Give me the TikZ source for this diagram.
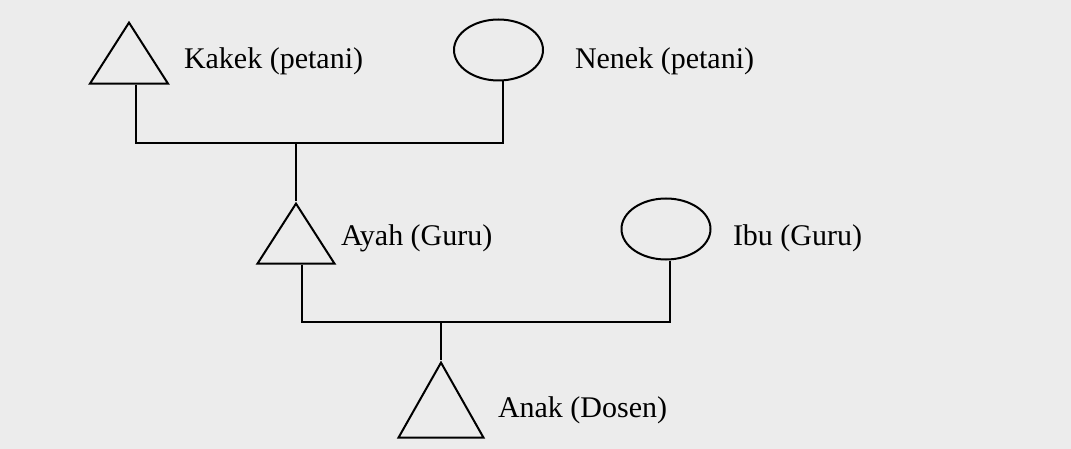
\documentclass[tikz,border=0pt]{standalone}
\usepackage{fontspec}
\setmainfont{Liberation Serif}
\usetikzlibrary{shapes.geometric}
\definecolor{bggray}{RGB}{236,236,236}
\tikzset{male/.style={draw, isosceles triangle, isosceles triangle stretches, shape border rotate=90, inner sep=0, line width=2pt, anchor=apex}}
\tikzset{female/.style={draw, ellipse, minimum width=89, minimum height=61, inner sep=0, line width=2pt}}
\tikzset{who/.style={anchor=base west, inner sep=0, font=\fontsize{30}{36}\selectfont}}

\begin{document}
\begin{tikzpicture}[x=1pt, y=-1pt, line width=2pt]
\fill[bggray] (0,0) rectangle (1071,449);
\useasboundingbox (0,0) rectangle (1071,449);
% generasi pertama
\node[male, minimum width=78, minimum height=61] (kakek) at (129,20) {};
\node[female] (nenek) at (498.5,50) {};
\node[who] (tkakek) at (183,69) {Kakek (petani)};
\node[who] (tnenek) at (574,69) {Nenek (petani)};
% generasi kedua
\node[male, minimum width=77, minimum height=60] (ayah) at (296,201) {};
\node[female] (ibu) at (666,229) {};
\node[who] (tayah) at (340,245) {Ayah (Guru)};
\node[who] (tibu) at (732,245) {Ibu (Guru)};
% generasi ketiga
\node[male, minimum width=85, minimum height=75] (anak) at (441,360) {};
\node[who] (tanak) at (497,417) {Anak (Dosen)};
% garis keturunan
\coordinate (kawin1) at (296,143);
\coordinate (kawin2) at (441,322);
\draw ([xshift=7]kakek.lower side) |- (kawin1) -| ([xshift=4.5]nenek.south);
\draw (kawin1) -- (ayah.apex);
\draw ([xshift=6]ayah.lower side) |- (kawin2) -| ([xshift=4]ibu.south);
\draw (kawin2) -- (anak.apex);
\end{tikzpicture}
\end{document}
